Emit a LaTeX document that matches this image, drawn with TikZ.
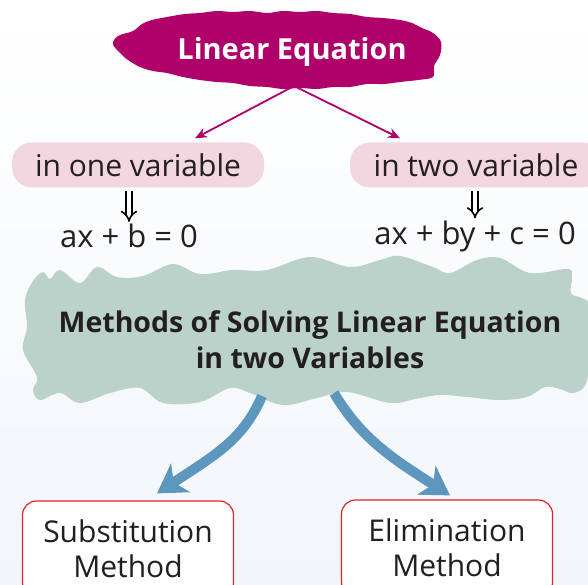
\documentclass[tikz,border=0pt]{standalone}
\usepackage{fontspec}
\setmainfont{Open Sans}
\usetikzlibrary{arrows.meta, positioning, calc}
\definecolor{eqmagenta}{RGB}{176,0,106}
\definecolor{varpink}{RGB}{242,214,224}
\definecolor{methgreen}{RGB}{186,210,202}
\definecolor{methblue}{RGB}{94,151,189}
\definecolor{methred}{RGB}{222,36,44}
\definecolor{bgblue}{RGB}{242,246,250}
\definecolor{inkgray}{RGB}{35,31,32}

\begin{document}
\begin{tikzpicture}[x=1pt, y=-1pt,
      font=\fontsize{30}{34}\selectfont, text=inkgray,
      varbox/.style={rounded corners=20pt, fill=varpink, minimum width=252pt, minimum height=45pt},
      eqn/.style={inner sep=2pt, font=\fontsize{31}{34}\selectfont},
      methbox/.style={draw=methred, line width=1.2pt, rounded corners=14pt, fill=white, align=center,
        minimum width=211pt, minimum height=96pt, font=\fontsize{30}{35}\selectfont},
      thinarrow/.style={-{Stealth[length=12pt, width=10pt]}, eqmagenta, line width=1.8pt},
      implies/.style={double, double distance=4pt, line width=1.6pt, -{Implies}},
      bluearrow/.style={methblue, line width=10pt, -{Stealth[length=28pt, width=34pt, inset=8pt]}}
    ]
      \useasboundingbox (0,0) rectangle (588,585);
      \clip (0,0) rectangle (588,585);
      \shade[top color=white, bottom color=bgblue] (0,0) rectangle (588,585);

      % top cloud
      \fill[eqmagenta] plot[smooth cycle, tension=0.6] coordinates {
        (113,44) (118,36) (133,31) (142,24) (152,20) (167,17) (185,14) (200,13) (217,11)
        (233,12) (250,11) (267,13) (283,11) (300,12) (317,11) (333,13) (350,14) (367,17)
        (383,18) (400,20) (412,23) (422,28) (433,33) (441,42) (440,55) (434,66) (433,77)
        (418,80) (400,82) (384,84) (367,84) (350,87) (333,87) (317,89) (300,88) (283,89)
        (267,87) (250,86) (233,83) (217,82) (200,80) (183,77) (167,73) (153,71) (140,67)
        (128,60) (120,53)};
      \node[text=white, font=\fontsize{29}{32}\selectfont\bfseries] (lineq) at (292,52) {Linear Equation};
      \coordinate (split) at (294,86);
      \node[varbox] (one) at (138,165) {in one variable};
      \node[varbox] (two) at (476,165) {in two variable};
      \draw[thinarrow] (split) -- ($(one.north)+(57,-4)$);
      \draw[thinarrow] (split) -- ($(two.north)+(-76,-4)$);

      % equations
      \node[eqn] (eqone) at (129,236) {ax + b = 0};
      \node[eqn] (eqtwo) at (475,236) {ax + by + c = 0};
      \draw[implies] ($(eqone.north |- one.south)+(0,3)$) -- (eqone.north);
      \draw[implies] ($(eqtwo.north |- two.south)+(0,3)$) -- (eqtwo.north);

      % methods blob
      \fill[methgreen] plot[smooth cycle, tension=0.6] coordinates {
        (33,281) (43,272) (50,279) (60,270) (80,283) (97,267) (117,277) (143,276) (173,264)
        (200,274) (233,270) (267,270) (310,257) (350,267) (380,260) (400,256) (433,267)
        (450,273) (477,260) (500,258) (530,273) (567,269) (572,276) (571,293) (582,298)
        (590,306) (593,340) (586,383) (573,393) (560,389) (545,387) (527,397) (500,400)
        (467,397) (440,395) (415,399) (390,403) (347,392) (317,398) (283,405) (250,393)
        (230,388) (200,402) (163,403) (140,388) (110,393) (80,403) (60,393) (40,400)
        (33,390) (37,377) (23,350) (27,327) (25,300)};
      \node[align=center, font=\fontsize{28.5}{36}\selectfont\bfseries] (methods) at (310,340)
        {Methods of Solving Linear Equation\\in two Variables};

      % two methods
      \node[methbox] (subst) at (128,549) {Substitution\\Method};
      \node[methbox] (elim) at (447,548) {Elimination\\Method};
      \coordinate (lstart) at (262,396);
      \coordinate (rstart) at (334,393);
      \draw[bluearrow] (lstart) .. controls (243,440) and (215,455) .. ($(subst.north)+(29,-7)$);
      \draw[bluearrow] (rstart) .. controls (362,440) and (395,460) .. ($(elim.north)+(3,-4)$);
    \end{tikzpicture}
\end{document}
